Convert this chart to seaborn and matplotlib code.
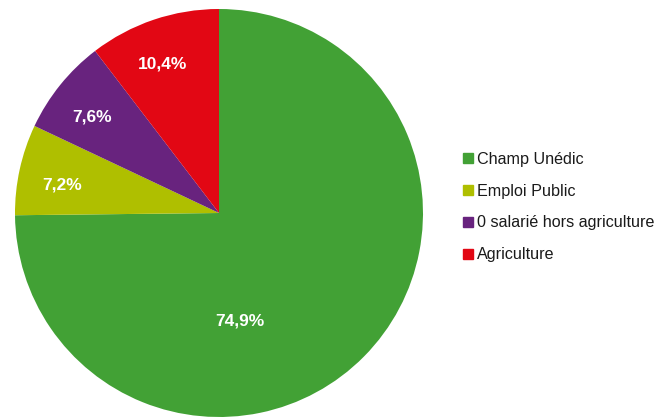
import numpy as np
import matplotlib
matplotlib.use("Agg")
import matplotlib.pyplot as plt
from matplotlib.lines import Line2D
import seaborn as sns

# Répartition des établissements
categories = ["Champ Unédic", "Emploi Public", "0 salarié hors agriculture", "Agriculture"]
shares = [74.9, 7.2, 7.6, 10.4]
labels = ["74,9%", "7,2%", "7,6%", "10,4%"]
colors = ["#42A135", "#AFBF00", "#68237E", "#E20714"]

sns.set_theme(style="white")
plt.rcParams["font.family"] = ["Liberation Sans", "DejaVu Sans"]

fig = plt.figure(figsize=(6.7, 4.17), dpi=100)
W, H = 670, 417
cx, cy, R = 219, 213, 204
ax = fig.add_axes([(cx - R) / W, (H - cy - R) / H, 2 * R / W, 2 * R / H])

wedges, _ = ax.pie(shares, colors=colors, startangle=90, counterclock=False,
                   radius=1.0, wedgeprops=dict(linewidth=0))
ax.set_xlim(-1, 1)
ax.set_ylim(-1, 1)
ax.set_aspect("equal")
ax.axis("off")

# Étiquettes de pourcentage : les petites parts au milieu de leur secteur,
# la grande part plus bas, vers le centre du disque
for w, lab in zip(wedges, labels):
    mid_deg = (w.theta1 + w.theta2) / 2
    if w.theta2 - w.theta1 > 180:
        mid_deg, r = -79, 0.54
    else:
        mid_deg, r = mid_deg + 2, 0.78
    mid = np.deg2rad(mid_deg)
    ax.text(r * np.cos(mid), r * np.sin(mid), lab, ha="center", va="center",
            color="white", fontsize=12.5, fontweight="bold")

handles = [Line2D([], [], marker="s", linestyle="none", markersize=6.5,
                  markerfacecolor=c, markeredgecolor=c) for c in colors]
fig.legend(handles, categories, loc="center left", bbox_to_anchor=(455 / W, 1 - 207 / H),
           frameon=False, fontsize=11.6, handlelength=0.6, handletextpad=0.25,
           labelspacing=1.05, borderpad=0, labelcolor="#1a1a1a")

fig.savefig("out.png", dpi=100)
